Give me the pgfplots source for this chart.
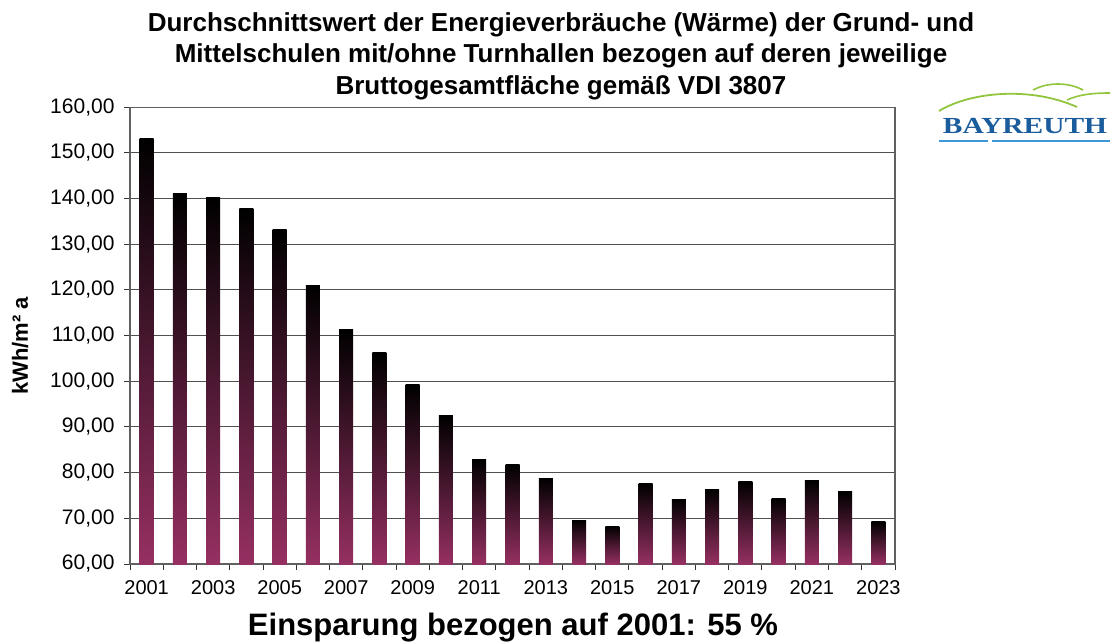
\documentclass[border=0pt]{standalone}
\usepackage{fontspec}
\setmainfont{Liberation Sans}
\newfontfamily\logofont{Liberation Serif}
\usepackage{graphicx}
\usepackage{pgfplots}
\usepackage{pgfplotstable}
\pgfplotsset{compat=1.18}
\definecolor{barpink}{RGB}{150,48,98}
\definecolor{gridgray}{RGB}{80,80,80}
\definecolor{logoblue}{RGB}{27,92,156}
\definecolor{logolight}{RGB}{60,150,215}
\definecolor{logogreen}{RGB}{145,198,60}

\pgfplotstableread{
idx year value
0 2001 153.1
1 2002 141.2
2 2003 140.3
3 2004 137.9
4 2005 133.3
5 2006 121.0
6 2007 111.4
7 2008 106.4
8 2009 99.2
9 2010 92.6
10 2011 82.8
11 2012 81.7
12 2013 78.8
13 2014 69.6
14 2015 68.3
15 2016 77.7
16 2017 74.2
17 2018 76.4
18 2019 78.0
19 2020 74.4
20 2021 78.2
21 2022 75.8
22 2023 69.2
}\energydata

\begin{document}
\begin{tikzpicture}[x=1pt,y=1pt]
\path[use as bounding box] (0,0) rectangle (1113,-643);
\begin{axis}[
  at={(130pt,-564pt)}, anchor=south west,
  width=765pt, height=456.7pt, scale only axis,
  xmin=-0.5, xmax=22.5, ymin=60, ymax=160,
  y coord trafo/.code={\pgfmathparse{#1-60}},
  y coord inv trafo/.code={\pgfmathparse{#1+60}},
  ytick={60,70,...,160},
  xtick={0,2,...,22},
  xticklabels={2001,2003,2005,2007,2009,2011,2013,2015,2017,2019,2021,2023},
  minor xtick={-0.5,0.5,...,22.5},
  major x tick style={draw=none},
  minor tick length=6pt, major tick length=6pt,
  tick align=outside, xtick pos=bottom, ytick pos=left,
  tick style={black!80, line width=1pt},
  ymajorgrids, major grid style={gridgray, line width=1pt},
  axis line style={draw=gray!75!black, line width=1.4pt},
  /pgf/number format/assume math mode=true,
  yticklabel style={/pgf/number format/fixed, /pgf/number format/fixed zerofill,
    /pgf/number format/precision=2, /pgf/number format/use comma,
    font=\fontsize{21}{21}\selectfont, xshift=-6pt},
  xticklabel style={font=\fontsize{20}{20}\selectfont, yshift=-7pt},
]
\pgfplotsinvokeforeach{0,...,22}{
  \addplot[ybar, bar width=14pt, draw=none, top color=black, bottom color=barpink,
    restrict x to domain=#1:#1]
    table[x=idx, y=value] {\energydata};
}
\end{axis}
% title
\node[align=center, inner sep=0pt, anchor=north, font=\bfseries\fontsize{26}{31.5}\selectfont]
  at (561,-12) {Durchschnittswert der Energieverbräuche (Wärme) der Grund- und\\
  Mittelschulen mit/ohne Turnhallen bezogen auf deren jeweilige\\
  Bruttogesamtfläche gemäß VDI 3807};
% y label
\node[rotate=90, font=\bfseries\fontsize{22}{22}\selectfont] at (20,-346) {kWh/m² a};
% bottom text
\node[font=\bfseries\fontsize{31}{31}\selectfont] at (513,-628) {Einsparung bezogen auf 2001: 55 \%};
% logo
\draw[logogreen, line width=1.8pt] (939,-111) .. controls (970,-92) and (1030,-86) .. (1077,-107);
\draw[logogreen, line width=1.6pt] (1033,-90) .. controls (1048,-82) and (1068,-82) .. (1083,-90);
\draw[logogreen, line width=1.6pt] (1067,-100) .. controls (1080,-94) and (1095,-93) .. (1110,-93);
\node[logoblue, font=\logofont\fontsize{23}{23}\selectfont, inner sep=0pt, anchor=base] at (1025,-133) {\scalebox{1.28}[1]{\bfseries BAYREUTH}};
\draw[logolight, line width=2.5pt] (939,-141) -- (988,-141);
\draw[logolight, line width=2.5pt] (992,-141) -- (1110,-141);
\end{tikzpicture}
\end{document}
